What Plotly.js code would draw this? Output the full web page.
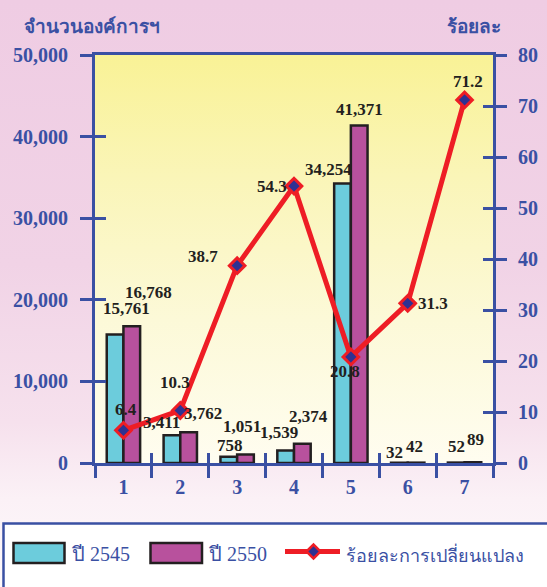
<!DOCTYPE html>
<html><head><meta charset="utf-8">
<script src="https://cdn.plot.ly/plotly-3.0.1.min.js"></script>
<style>
html,body{margin:0;padding:0;}
body{width:547px;height:587px;overflow:hidden;position:relative;
background:linear-gradient(to bottom,#EFCCE3 0%,#F1D3E6 45%,#F6E1ED 72%,#FBF1F6 85%,#FEF9FB 100%);}
#bg{position:absolute;left:95px;top:55px;width:398px;height:408px;
background:linear-gradient(to bottom,#F9F296 0%,#FAF5B8 30%,#FCF9D8 65%,#FFFDF0 100%);}
#chart{position:absolute;left:0;top:0;width:547px;height:587px;}
</style></head><body><div id="bg"></div><div id="chart"></div>
<script>
// ---- data ----
const categories = ['1','2','3','4','5','6','7'];
const orgs2545 = [15761, 3411, 758, 1539, 34254, 32, 52];
const orgs2550 = [16768, 3762, 1051, 2374, 41371, 42, 89];
const pctChange = [6.4, 10.3, 38.7, 54.3, 20.8, 31.3, 71.2];
const leftTickVals = [0, 10000, 20000, 30000, 40000, 50000];
const rightTickVals = [0, 10, 20, 30, 40, 50, 60, 70, 80];
const boundaryTicks = [-0.5, 0.5, 1.5, 2.5, 3.5, 4.5, 5.5, 6.5];
const seriesNames = ['ปี 2545', 'ปี 2550', 'ร้อยละการเปลี่ยนแปลง'];
const leftTitle = 'จำนวนองค์การฯ';
const rightTitle = 'ร้อยละ';

// ---- label offsets (pixels) ----
const off2545 = [[11,26],[-10,13],[1,11],[-7,18],[-14,14],[-5,10],[0,16]];
const off2550 = [[17,34],[14,19],[-3,28],[6,27],[0,16],[-2,16],[3,23]];
const offPct  = [[3,21],[-5,28],[-34,9],[-22,0],[-6,-15],[25,0],[3,18]];

const BLUE = '#3A50A3';
const SERIF = 'Liberation Serif, Times New Roman, serif';
const L = 95, R = 493, T = 55, B = 463;
const px = x => (x - L) / (R - L);
const py = y => (B - y) / (B - T);
const halfBar = 8.35;

const traces = [
  {type:'bar', name:seriesNames[0], x:categories, y:orgs2545, xaxis:'x', yaxis:'y',
   marker:{color:'#6CCCDC', line:{color:'#231F20', width:2.5}}, hoverinfo:'none'},
  {type:'bar', name:seriesNames[1], x:categories, y:orgs2550, xaxis:'x', yaxis:'y',
   marker:{color:'#B8519D', line:{color:'#231F20', width:2.5}}, hoverinfo:'none'},
  {type:'scatter', mode:'lines+markers', name:seriesNames[2], x:categories, y:pctChange,
   xaxis:'x', yaxis:'y2', line:{color:'#EE1D25', width:5},
   marker:{symbol:'diamond', size:12, color:'#2E3192', line:{color:'#EE1D25', width:3}}, hoverinfo:'none'},
  // empty helper traces so the inner tick axes are drawn
  {type:'scatter', x:[], y:[], xaxis:'x2', yaxis:'y3', showlegend:false, hoverinfo:'skip'},
  {type:'scatter', x:[], y:[], xaxis:'x2', yaxis:'y4', showlegend:false, hoverinfo:'skip'}
];

const ann = [];
const lblFont = {family:SERIF, size:17, color:'#231F20', weight:'bold'};
categories.forEach((c,i)=>{
  ann.push({x:i, y:orgs2545[i], xref:'x', yref:'y', text:orgs2545[i].toLocaleString('en-US'),
    showarrow:false, xanchor:'center', yanchor:'middle', xshift:-halfBar+off2545[i][0], yshift:off2545[i][1], font:lblFont});
  ann.push({x:i, y:orgs2550[i], xref:'x', yref:'y', text:orgs2550[i].toLocaleString('en-US'),
    showarrow:false, xanchor:'center', yanchor:'middle', xshift:halfBar+off2550[i][0], yshift:off2550[i][1], font:lblFont});
  ann.push({x:i, y:pctChange[i], xref:'x', yref:'y2', text:pctChange[i].toFixed(1),
    showarrow:false, xanchor:'center', yanchor:'middle', xshift:offPct[i][0], yshift:offPct[i][1], font:lblFont});
});
const titleFont = {family:SERIF, size:19, color:BLUE, weight:'bold'};
ann.push({xref:'paper', yref:'paper', x:px(22), y:py(26), xanchor:'left', yanchor:'middle', text:leftTitle, showarrow:false, font:titleFont});
ann.push({xref:'paper', yref:'paper', x:px(474), y:py(26), xanchor:'center', yanchor:'middle', text:rightTitle, showarrow:false, font:titleFont});
const legFont = {family:SERIF, size:20, color:BLUE};
ann.push({xref:'paper', yref:'paper', x:px(70), y:py(554), xanchor:'left', yanchor:'middle', text:seriesNames[0], showarrow:false, font:legFont});
ann.push({xref:'paper', yref:'paper', x:px(207), y:py(554), xanchor:'left', yanchor:'middle', text:seriesNames[1], showarrow:false, font:legFont});
ann.push({xref:'paper', yref:'paper', x:px(344), y:py(554), xanchor:'left', yanchor:'middle', text:seriesNames[2], showarrow:false,
  font:{family:SERIF, size:18, color:BLUE}});

const shapes = [
  {type:'rect', xref:'paper', yref:'paper', x0:px(3.5), x1:px(620), y0:py(523.5), y1:py(640),
   fillcolor:'#FFFFFF', line:{color:BLUE, width:2.5}, layer:'above'},
  {type:'rect', xref:'paper', yref:'paper', x0:px(13.5), x1:px(64.5), y0:py(543), y1:py(563),
   fillcolor:'#6CCCDC', line:{color:'#231F20', width:2.5}, layer:'above'},
  {type:'rect', xref:'paper', yref:'paper', x0:px(150.5), x1:px(202), y0:py(543), y1:py(563),
   fillcolor:'#B8519D', line:{color:'#231F20', width:2.5}, layer:'above'},
  {type:'line', xref:'paper', yref:'paper', x0:px(285), x1:px(340), y0:py(551.5), y1:py(551.5),
   line:{color:'#EE1D25', width:5}, layer:'above'},
  {type:'path', xref:'paper', yref:'paper',
   path:`M ${px(306.5)} ${py(551.5)} L ${px(313.5)} ${py(544.5)} L ${px(320.5)} ${py(551.5)} L ${px(313.5)} ${py(558.5)} Z`,
   fillcolor:'#2E3192', line:{color:'#EE1D25', width:2.5}, layer:'above'}
];

const tickFont = {family:SERIF, size:20, color:BLUE, weight:'bold'};
const layout = {
  width:547, height:587,
  margin:{l:L, r:547-R, t:T, b:587-B},
  paper_bgcolor:'rgba(0,0,0,0)', plot_bgcolor:'rgba(0,0,0,0)',
  showlegend:false, barmode:'group', bargap:0.413, bargroupgap:0,
  xaxis:{type:'category', range:[-0.5,6.5], showgrid:false, zeroline:false, showline:true, mirror:true,
    linecolor:BLUE, linewidth:3, ticks:'outside', tickson:'boundaries', ticklen:12, tickwidth:3, tickcolor:BLUE,
    tickfont:tickFont, ticklabelstandoff:4, fixedrange:true},
  xaxis2:{type:'linear', overlaying:'x', anchor:'y', side:'bottom', range:[-0.5,6.5], tickvals:boundaryTicks,
    ticks:'inside', ticklen:10, tickwidth:3, tickcolor:BLUE, showticklabels:false, showgrid:false, zeroline:false, showline:false},
  yaxis:{range:[0,50000], tickvals:leftTickVals, tickformat:',d', showgrid:false, zeroline:false, showline:true,
    linecolor:BLUE, linewidth:3, ticks:'outside', ticklen:12, tickwidth:3, tickcolor:BLUE, tickfont:tickFont,
    ticklabelstandoff:8, fixedrange:true},
  yaxis3:{overlaying:'y', anchor:'x', side:'left', range:[0,50000], tickvals:leftTickVals, ticks:'inside', ticklen:11,
    tickwidth:3, tickcolor:BLUE, showticklabels:false, showgrid:false, zeroline:false, showline:false},
  yaxis2:{overlaying:'y', anchor:'x', side:'right', range:[0,80], tickvals:rightTickVals, showgrid:false, zeroline:false,
    showline:true, linecolor:BLUE, linewidth:3, ticks:'outside', ticklen:11, tickwidth:3, tickcolor:BLUE,
    tickfont:tickFont, ticklabelstandoff:7, fixedrange:true},
  yaxis4:{overlaying:'y', anchor:'x', side:'right', range:[0,80], tickvals:rightTickVals, ticks:'inside', ticklen:10,
    tickwidth:3, tickcolor:BLUE, showticklabels:false, showgrid:false, zeroline:false, showline:false},
  annotations:ann, shapes:shapes
};
Plotly.newPlot('chart', traces, layout, {displayModeBar:false, staticPlot:true});
</script></body></html>
